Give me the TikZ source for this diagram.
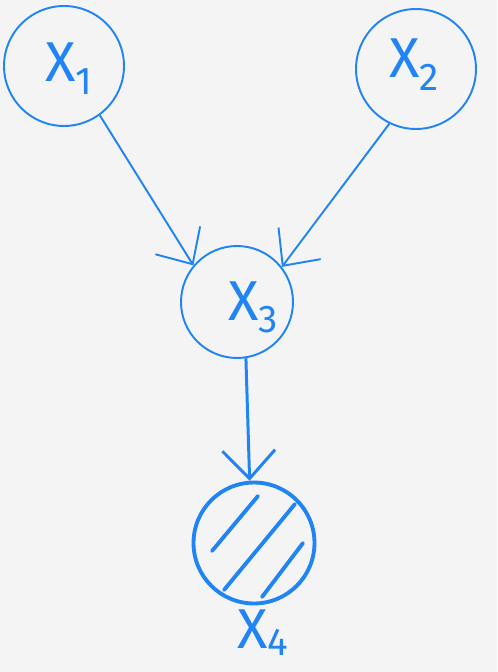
\documentclass[tikz,border=0pt]{standalone}
\usepackage{fontspec}
\setmainfont{Fira Sans}
\usetikzlibrary{arrows.meta}
\definecolor{pen}{RGB}{32,132,245}
\definecolor{paper}{RGB}{244,244,244}
\newcommand{\xlab}[3][-7pt]{#2\raisebox{#1}{\fontsize{22}{22}\selectfont #3}}
\tikzset{
  circ/.style={circle, draw=pen, line width=1.1pt, inner sep=0pt},
  lab/.style={text=pen, font=\fontsize{32}{32}\selectfont, inner sep=0pt, anchor=base west},
  conn/.style={draw=pen, line width=1.1pt, -{Straight Barb[length=16pt,width=30pt]}},
  hatch/.style={draw=pen, line width=2.2pt, line cap=round}
}
\begin{document}
\begin{tikzpicture}[x=0.02cm,y=-0.02cm]
\useasboundingbox (0,0) rectangle (497,672);
\fill[paper] (0,0) rectangle (497,672);
\node[circ, minimum size=2.4cm] (x1) at (64,66) {};
\node[circ, minimum size=2.4cm] (x2) at (416,69) {};
\node[circ, minimum size=2.24cm] (x3) at (237,302) {};
\node[circ, line width=2.2pt, minimum size=2.42cm] (x4) at (254,543) {};
\node[lab] (l1) at (45,82) {\xlab{X}{1}};
\node[lab] (l2) at (389,78) {\xlab{X}{2}};
\node[lab] (l3) at (228,320) {\xlab{X}{3}};
\node[lab] (l4) at (237,648) {\xlab[-4pt]{X}{4}};
\draw[conn] (x1.-54) -- (x3.140);
\draw[conn] (x2.-116) -- (x3.38);
\draw[conn, line width=1.7pt] (x3.-81) -- (x4.94);
\draw[hatch] (258,496) -- (212,551);
\draw[hatch] (295,504) -- (224,590);
\draw[hatch] (303,543) -- (262,597);
\end{tikzpicture}
\end{document}
